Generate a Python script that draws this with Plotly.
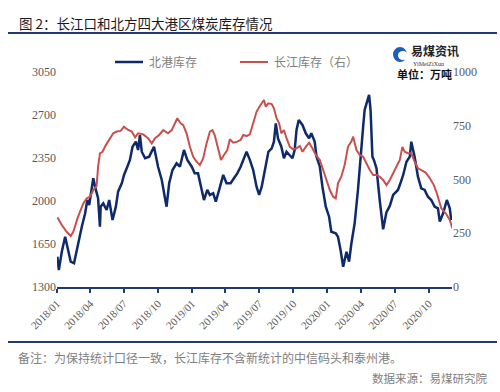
import plotly.graph_objects as go

# ---------------- data ----------------
north_dates = [
    "2018-01-02","2018-01-06","2018-01-14","2018-01-23","2018-01-29","2018-02-07","2018-02-16","2018-02-27",
    "2018-03-09","2018-03-18","2018-03-24","2018-03-29","2018-04-05","2018-04-09","2018-04-16","2018-04-22",
    "2018-04-27","2018-04-29","2018-05-06","2018-05-15","2018-05-22","2018-05-31","2018-06-09","2018-06-15",
    "2018-06-25","2018-07-01","2018-07-10","2018-07-17","2018-07-24","2018-08-02","2018-08-08","2018-08-13",
    "2018-08-18","2018-08-27","2018-09-07","2018-09-20","2018-10-01","2018-10-11","2018-10-19","2018-10-24",
    "2018-10-31","2018-11-09","2018-11-20","2018-11-29","2018-12-10","2018-12-19","2018-12-31","2019-01-08",
    "2019-01-17","2019-01-27","2019-02-02","2019-02-11","2019-02-18","2019-02-27","2019-03-06","2019-03-15",
    "2019-03-26","2019-04-04","2019-04-15","2019-04-24","2019-05-03","2019-05-12","2019-05-21","2019-05-28",
    "2019-06-06","2019-06-15","2019-06-24","2019-07-01","2019-07-08","2019-07-17","2019-07-26","2019-08-04",
    "2019-08-10","2019-08-15","2019-08-21","2019-08-30","2019-09-06","2019-09-13","2019-09-22","2019-09-29",
    "2019-10-05","2019-10-10","2019-10-16","2019-10-26","2019-11-04","2019-11-13","2019-11-19","2019-11-28",
    "2019-12-03","2019-12-12","2019-12-19","2019-12-28","2020-01-06","2020-01-12","2020-01-24","2020-01-30",
    "2020-02-06","2020-02-13","2020-02-22","2020-02-29","2020-03-06","2020-03-15","2020-03-24","2020-03-29",
    "2020-04-07","2020-04-11","2020-04-23","2020-04-27","2020-05-02","2020-05-06","2020-05-13","2020-05-22",
    "2020-05-31","2020-06-09","2020-06-18","2020-06-27","2020-07-06","2020-07-10","2020-07-15","2020-07-24",
    "2020-08-02","2020-08-11","2020-08-15","2020-08-24","2020-09-02","2020-09-11","2020-09-20","2020-09-29",
    "2020-10-08","2020-10-17","2020-10-26","2020-10-31","2020-11-09","2020-11-19","2020-11-27","2020-12-01",
]
north_vals = [
    1547,1438,1587,1709,1628,1506,1493,1656,
    1791,1900,2008,1967,2116,2185,2090,2022,
    1791,1954,1981,1927,2008,1845,1954,2076,
    2144,2212,2279,2334,2442,2483,2415,2537,
    2401,2348,2361,2442,2279,2171,2035,1954,
    2144,2252,2307,2279,2415,2334,2279,2225,
    2225,2090,2008,2090,2049,2063,1994,2090,
    2212,2144,2144,2185,2225,2279,2348,2401,
    2335,2252,2116,2049,2116,2252,2401,2429,
    2483,2632,2510,2442,2348,2401,2374,2348,
    2415,2578,2659,2619,2551,2510,2551,2483,
    2361,2279,2116,1954,1872,1750,1737,1709,
    1601,1465,1587,1506,1650,1818,2090,2300,
    2605,2741,2863,2741,2361,2334,2266,2000,
    1770,1910,1960,2050,2076,2090,2130,2210,
    2320,2361,2483,2361,2198,2103,2090,2035,
    2008,1954,1940,1832,1900,2008,1940,1845,
]

yangtze_dates = [
    "2018-01-02","2018-01-14","2018-01-27","2018-02-07","2018-02-14","2018-02-27","2018-03-13","2018-03-22",
    "2018-03-31","2018-04-09","2018-04-18","2018-04-22","2018-04-27","2018-05-04","2018-05-13","2018-05-24",
    "2018-06-02","2018-06-11","2018-06-22","2018-07-01","2018-07-10","2018-07-22","2018-07-31","2018-08-08",
    "2018-08-22","2018-09-04","2018-09-14","2018-09-23","2018-10-04","2018-10-15","2018-10-28","2018-11-07",
    "2018-11-15","2018-11-22","2018-12-01","2018-12-08","2018-12-17","2018-12-26","2019-01-04","2019-01-13",
    "2019-01-22","2019-01-31","2019-02-09","2019-02-18","2019-02-25","2019-03-03","2019-03-12","2019-03-20",
    "2019-03-28","2019-04-06","2019-04-13","2019-04-22","2019-05-03","2019-05-12","2019-05-19","2019-05-28",
    "2019-06-06","2019-06-15","2019-06-24","2019-07-03","2019-07-14","2019-07-19","2019-07-26","2019-08-04",
    "2019-08-10","2019-08-17","2019-08-24","2019-08-30","2019-09-06","2019-09-13","2019-09-22","2019-10-01",
    "2019-10-10","2019-10-19","2019-10-26","2019-11-04","2019-11-13","2019-11-22","2019-12-01","2019-12-12",
    "2019-12-21","2019-12-30","2020-01-08","2020-01-17","2020-01-24","2020-01-30","2020-02-08","2020-02-17",
    "2020-02-26","2020-03-06","2020-03-11","2020-03-20","2020-03-29","2020-04-07","2020-04-16","2020-04-25",
    "2020-05-04","2020-05-13","2020-05-22","2020-05-31","2020-06-09","2020-06-18","2020-06-27","2020-07-06",
    "2020-07-15","2020-07-22","2020-07-28","2020-08-06","2020-08-15","2020-08-24","2020-09-02","2020-09-11",
    "2020-09-23","2020-10-04","2020-10-15","2020-10-23","2020-11-04","2020-11-16","2020-11-27","2020-12-04",
]
yangtze_vals = [
    324,288,257,237,257,327,389,412,
    420,451,470,560,622,629,660,692,
    715,723,726,746,733,723,696,715,
    710,692,668,692,707,730,715,730,
    761,785,761,753,715,652,606,583,
    567,599,668,723,730,707,645,591,
    614,637,687,671,676,684,707,702,
    710,761,815,842,870,839,854,851,
    831,785,761,715,730,692,652,640,
    645,656,629,652,671,645,614,591,
    544,498,451,420,412,482,513,567,
    652,676,699,637,614,606,575,544,
    521,521,513,498,474,498,529,560,
    591,652,629,622,622,583,552,544,
    532,506,474,436,366,343,312,273,
]

tick_vals = ["2018-01-01","2018-04-01","2018-07-01","2018-10-01","2019-01-01","2019-04-01",
             "2019-07-01","2019-10-01","2020-01-01","2020-04-01","2020-07-01","2020-10-01"]
tick_text = ["2018/01","2018/04","2018/07","2018/10","2019/01","2019/04",
             "2019/07","2019/10","2020/01","2020/04","2020/07","2020/10"]
left_ticks = [1300, 1650, 2000, 2350, 2700, 3050]
right_ticks = [0, 250, 500, 750, 1000]
series_names = ["北港库存", "长江库存（右）"]

NAVY = "#0f2a6b"
RED = "#c8504e"
AXIS = "#1f3b73"
GREY = "#595959"
SERIF = "Liberation Serif, Times New Roman, serif"
CJK = "Noto Sans CJK SC"

# plot area in pixels
L, R, T, B = 57, 452, 72, 287
W, H = R - L, B - T


def px(x):
    return (x - L) / W


def py(y):
    return 1 - (y - T) / H


fig = go.Figure()
fig.add_trace(go.Scatter(x=north_dates, y=north_vals, mode="lines", name=series_names[0],
                         line=dict(color=NAVY, width=2.5), showlegend=False))
fig.add_trace(go.Scatter(x=yangtze_dates, y=yangtze_vals, mode="lines", name=series_names[1],
                         yaxis="y2", line=dict(color=RED, width=2), showlegend=False))

fig.update_layout(
    width=500, height=392,
    margin=dict(l=L, r=500 - R, t=T, b=392 - B),
    paper_bgcolor="white", plot_bgcolor="white",
    showlegend=False,
    xaxis=dict(range=["2018-01-01", "2020-12-03"], tickvals=tick_vals, ticktext=tick_text,
               tickangle=-45, showgrid=False, zeroline=False, automargin=False,
               showline=True, linecolor=AXIS, linewidth=2,
               ticks="outside", ticklen=4, tickwidth=2, tickcolor=AXIS,
               tickfont=dict(family=SERIF, size=11, color=GREY)),
    yaxis=dict(range=[1300, 3050], tickvals=left_ticks, showgrid=False, zeroline=False,
               automargin=False, showline=False, ticks="",
               tickfont=dict(family=SERIF, size=12, color=GREY)),
    yaxis2=dict(range=[0, 1000], tickvals=right_ticks, overlaying="y", side="right",
                automargin=False, showgrid=False, zeroline=False, showline=False, ticks="",
                tickfont=dict(family=SERIF, size=12, color=GREY)),
)

# legend (drawn manually)
fig.add_shape(type="line", xref="paper", yref="paper", x0=px(115), x1=px(143),
              y0=py(62), y1=py(62), line=dict(color=NAVY, width=2.5))
fig.add_shape(type="line", xref="paper", yref="paper", x0=px(240), x1=px(268),
              y0=py(62), y1=py(62), line=dict(color=RED, width=2))

# logo
fig.add_shape(type="circle", xref="paper", yref="paper",
              x0=px(393), x1=px(407), y0=py(62), y1=py(47),
              fillcolor="#1a5fb4", line=dict(width=0))
fig.add_shape(type="circle", xref="paper", yref="paper",
              x0=px(398), x1=px(408), y0=py(60), y1=py(51),
              fillcolor="white", line=dict(width=0))

annotations = [
    dict(text="图 2：长江口和北方四大港区煤炭库存情况", x=17, y=23, xanchor="left",
         font=dict(family=CJK, size=13.5, color="#1a1a1a")),
    dict(text=series_names[0], x=147, y=62, xanchor="left",
         font=dict(family=CJK, size=12, color="#7f7f7f")),
    dict(text=series_names[1], x=272, y=62, xanchor="left",
         font=dict(family=CJK, size=12, color="#7f7f7f")),
    dict(text="<b>易煤资讯</b>", x=409, y=51, xanchor="left",
         font=dict(family=CJK, size=12, color="#222222")),
    dict(text="YiMeiZiXun", x=411, y=63.5, xanchor="left",
         font=dict(family=SERIF, size=6, color="#333333")),
    dict(text="<b>单位：万吨</b>", x=454, y=74, xanchor="right",
         font=dict(family=CJK, size=11, color="#111111")),
    dict(text="备注：为保持统计口径一致，长江库存不含新统计的中信码头和泰州港。", x=16, y=357,
         xanchor="left", font=dict(family=CJK, size=12, color="#808080")),
    dict(text="数据来源：易煤研究院", x=489, y=378, xanchor="right",
         font=dict(family=CJK, size=11.5, color="#808080")),
]
for a in annotations:
    ax, ay = a.pop("x"), a.pop("y")
    fig.add_annotation(xref="paper", yref="paper", x=px(ax), y=py(ay),
                       yanchor="middle", showarrow=False, **a)

# header / footer rules are added as page elements (absolutely positioned)
rule_js = "".join(
    "(function(){var d=document.createElement('div');"
    "d.style.cssText='position:absolute;left:8px;top:%dpx;width:489px;height:2px;"
    "background:%s;z-index:1000;pointer-events:none;';document.body.appendChild(d);})();"
    % (top, AXIS)
    for top in (32, 341)
)

fig.write_html("out.html", config={"displayModeBar": False},
               post_script="document.body.style.margin='0';document.body.style.padding='0';"
                           "document.body.style.position='relative';"
                           "document.documentElement.style.overflow='hidden';" + rule_js)
